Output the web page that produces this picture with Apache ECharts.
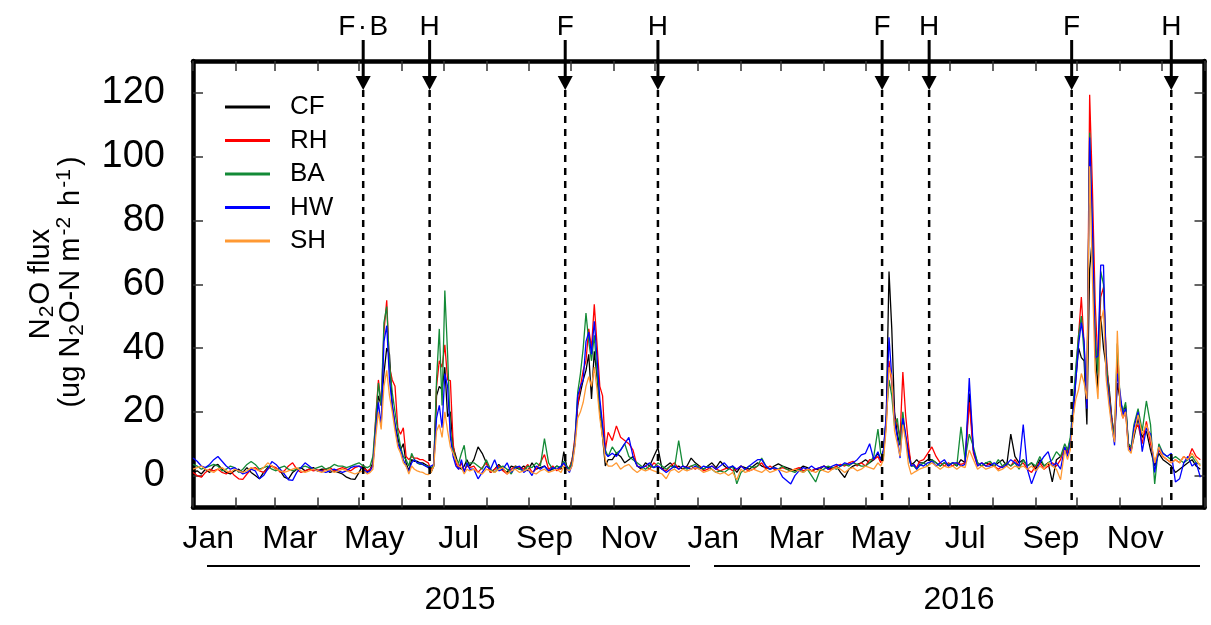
<!DOCTYPE html>
<html>
<head>
<meta charset="utf-8">
<title>N2O flux</title>
<script src="https://cdn.jsdelivr.net/npm/echarts@6.0.0/dist/echarts.min.js"></script>
<style>
html, body { margin: 0; padding: 0; background: #fff; }
#chart { width: 1211px; height: 625px; }
</style>
</head>
<body>
<div id="chart"></div>
<script>
// sampling days (days since 2015-01-01): [first, last, step]; denser around flux peaks
var sampleRuns = [[0,126,3],[128,200,2],[203,266,3],[268,300,2],[303,495,3],[497,525,2],[528,630,3],[632,680,2],[683,728,3]];

var seriesNames = ['CF', 'RH', 'BA', 'HW', 'SH'];
var seriesColors = ['#000000', '#ff0000', '#138a36', '#0000ff', '#ff9933'];

// field operations: fertilization / biochar (F, F·B) and harvest (H)
var eventDays = [123, 171, 269, 336, 498, 532, 635, 707];
var eventLabels = ['F\u200a\u00b7\u200aB', 'H', 'F', 'H', 'F', 'H', 'F', 'H'];

var monthNames = ['Jan','Feb','Mar','Apr','May','Jun','Jul','Aug','Sep','Oct','Nov','Dec'];
var labelMonths = [0, 2, 4, 6, 8, 10];
var yTicks = [0, 20, 40, 60, 80, 100, 120];
var years = ['2015', '2016'];

var CF = [
  1,1.5,0.5,2,1,3,3.5,2,1,0.5, 1.5,2,1,2.5,1,0,-1,1,2.5,3, 2,1.5,-0.5,-1,1,2,2.5,1.5,2,2.5, 1.5,2,2,1,1.5,1,0.5,-0.5,-1,-1.2, 1,3.5,1,
  2,4,15,25,22,32,40,38,22,16, 12,8,10,4,1.5,5,4.5,4.5,4,4, 3.5,3,1,3,25,28,27,34,18.5,20, 9,6,3,2,3,5,3,
  5,9,7,4,1,2,3.5,2,1,3, 2.5,2,3,1.5,4,2,2.5,3,1.5,2, 3,2,
  7.5,3,2,5,10,22,26,30,33,38, 24,39,31,20,12,3,5,
  5,7,6,4,5,6,3,2,4,3, 6,8.8,2,3,4,2.5,3,2,3,5.5, 4,3,2,3,4,2.5,4.5,3,2,3, 1,3,2.5,2,3,4,3,2.5,2,3, 3.7,3,2.5,2,1.5,2,3,2.5,1.5,2, 2,3,2.5,2,3,1,-0.6,2,3,3.5, 4,5,4,5,7,
  5,8,18,64,46,20,13,9.5,17.8,12, 8,3.5,4,5,4,
  4,5,5,4,3,4,3,4,3,5, 4,25.7,8,4,3,4,3.5,3,4,5, 3,13,6,4,5,3,4,2,5,3, 4,-2,5,6,8,
  8,11,18,30,40,37,36,16,64.7,74.7, 40,27,50,40,34,28,18,12,29,24, 20,22,10,8,12,
  18,12,14,8,3,7,5,4,3,1, 2,3,4,5,3,2
];
var RH = [
  1,0,-0.5,1,2,1.5,2,1,0.5,1.5, 0,-1,-1.2,0.5,2,2.5,1.5,1,2,3, 2.5,1,1.5,3,4,2,1,1.5,2,1.5, 1.8,1.5,2,2.5,1.5,2,2.5,2,1.5,2.5, 3,2.5,1.5,
  2,3,18,30,22,45,55,34,30,28, 15,13,15,6,5,6,5.5,5.5,5,5, 4.5,4,2,3.5,28,36,34,41,30,29.8, 10,4,2,4,1.5,3,2.5,
  3,1,2.5,4,1,2,3,1.5,0.5,2, 3,2.5,2,3.5,1,2,4,6.6,2,3, 1.5,2.5,
  4,2,2.5,5,12,22,28,33,36,46, 40,53.7,41,28,25,8,13.6,
  11,15.6,12,11,10,8,3,2.5,3,2, 4,3,2,1.5,3,4,2,3,2.5,3, 2,3,1.5,2,3,2,1.5,2,2.5,1.5, 2,3,2,1.5,2,3,4,2,3,2, 2,2.5,2,1.5,2,2.5,1.5,2,1.5,2, 2.5,3,2,2,3,3.5,3,4,4.5,3, 4,3,5,5,6,
  4,7,16,36,29,18,16,12,32.5,19, 10,3,3.5,2.5,4.5,
  5,7,9,6,4,3,4,3,4,3.5, 4,23,7,3,4,3,4,3,2,3, 4,3,5,3,4,2,1,3,4,2, 3,4,3,5,9,
  7,10,20,32,44,56,41,22,119.4,90, 54,35,56,59,38,26,18,11,37,22, 18,20,9,8,14,
  16,10,17,10,4,8,6,5,4,5, 4,6,5,8.5,6,5
];
var BA = [
  3.5,3,2,2.5,3,3.5,3,1.5,2,3, 2.5,1,2,3.5,4.4,3.5,2,2.5,3,2, 1.5,2.5,3,2,1.5,2,2.5,3,2.5,2, 2.5,3,2,2.5,3.5,3,3,2.5,3,3.5, 4,3,2.5,
  3,6,17,29,22,48,53,35,26,20, 14,9,6,5,3,7,5,4,3.5,3.5, 3,3,2.5,3,30,46,22,58,38,14, 8,5,4,7,9.5,3,4,
  4,3,2,5,2,1,2.5,3,2,0.5, 3,2,1.5,3,2.5,4,3,11.6,4,2, 3,2.5,
  4.5,3,2,4.5,11,26,32,40,51,42, 36,44,32,22,15,8,6,
  9,7,8,10,6,5,4,3,2,3, 2.5,4,3,2,3,2.5,11,3,2,3, 3.5,2.5,2,3,2,1,1.5,1,2,3, -2.6,1,2,3,2.5,3,5.5,3,2,2.5, 2,3,2,1.5,1,2,1,2,0,-2, 1.5,2,3,2.5,2,3,3.5,3,4,3.5, 3,3,4,6,14.6,
  7,6,18,30,25,15.6,18,10,20,12, 6,3,3,2,3,
  4,3,5,4,3,4,3.5,4,3,15.3, 5,13,9,4,3,4,4.5,3,5,3, 4,3,4,2,5,3,4,3,6,3, 4,5,7.5,6,10,
  8,12,22,34,44,50,38,23,107.5,76, 44,32,64,60,36,25,17,12,41.4,24, 20,23,10,9,16,
  21,14,23.4,16,-2.6,10,7,6,5,6, 5,4,5,6,4,3.5
];
var HW = [
  5.5,4.5,3,2.5,3.5,5,6,4.5,3,2, 2.5,1.5,0.5,1,2,1.5,-1,0,2,4.4, 3.5,2,0.5,-1.3,-1.5,1,2.5,4,3,2, 1.5,1.5,1,1.5,2,1.5,1,1.5,2.5,3, 3,2,1,
  1.5,3,14,23,15.5,42,47,30,22,16, 10,8,5,3,1.3,4,5,4,4,3.5, 3,2.5,3,3.5,18,22,15,32,28,12, 6,3,2,5,1,4,2,
  2,-1,1,3,2,5,1.5,2,4,1, 2.5,3,1,2,0,3,2,3,1.5,2.5, 2,3,
  4,2.5,1,3.5,10,25,28,30,42,45, 38,48.4,37,24,16,7,6,
  7,6,8,10,12,6,3,2.5,3,4, 2.5,3,2,1,2,3,2,3,2.5,2, 3,2,3,2.5,3,2,3,4,2.5,3, 2,3,2,3,4,5,5,3,2,2.5, 2,-0.4,-1.5,-2.6,0,1.5,2.5,2,3,2, 2.5,3,2,3,3.5,3,4,3.5,4,5, 6.5,7,10,5,7.5,
  5,8,19,43.4,31,17,12,5.5,18,13, 7,3,3.5,2,3.5,
  3,4,4.5,3,4,5,3,4,4,3, 3.5,30.6,8,3,4,3,3,4,3,2.5, 3.5,5,4,3,16,2,-2.6,1,4,6, 7.5,3,4,2,9,
  6,10,20,30,41,48,42,21,106,78.8, 37,37.5,66,66,32,24,16,9.5,32,26, 19,21,9,7.5,15,
  20,7.5,15,13,1,9,7,6,7,-2, -1,4,6,3,4,-0.5
];
var SH = [
  2,2.5,3,2,1.5,1,2,2.5,1.5,1, 2,1.5,1,1.5,2.5,2,1.5,2.5,4,3, 2,1.5,1,1.5,2,2.5,1.5,1,1.5,2, 1.5,1,1.5,2,1,1.5,2,1.5,1,0.5, 1,1.5,0.5,
  1,2,12,20,14.5,28,33,25,20,14, 9,7,4,3,0.5,3,2,1.5,1.2,1, 0.5,0.3,1,3,14,16,12,20,14,9, 7,5,3,2.5,0.5,2,1.5,
  2,1,0.5,2,1.5,1,2,2.5,0.5,1.5, 2,1,1.5,2,1,0.5,1.5,2,1,1.5, 2,1,
  3,2,1.5,3,9,18,20,23,28,31, 28,34,27,18,12,5,3,
  3,4,2,3,3.5,2,1,2,1.5,2, 1.5,1,0.5,-1,1.5,2,1,2,1.5,2, 2.5,2,1,1.5,2,1,0.5,1,0,1, -1.3,2,1,1.5,2,1.5,1,2,1,1.5, 2,1.5,1,1.5,2,1.5,1,2,1.5,1, 2,1.5,1,2,2.5,2,1,2,2.5,1.5, 2,3,2.5,2,4,
  3,5,15,34,31,14,10,6,16,11, 3.5,0.4,1,1.5,2,
  2.5,3,4,3,2,3,2.5,3,2,3, 2.5,8,5,2,3,2,2.5,3,1.5,2, 3,2,3,2.5,3,2,3,1.5,3,2, 4,3,2,-1.3,8,
  5,8,18,24,27,32,29,24,97,61.5, 33,24,48,52,30,22,15,10.5,45.4,22, 18,20,8,7,13,
  19,13,16,12,4,9,6,5,4,5, 4,6,5,7,5,3
];
var seriesValues = [CF, RH, BA, HW, SH];

var FONT = '"Liberation Sans", Arial, sans-serif';
var DAY = 86400000;
var T0 = Date.UTC(2015, 0, 1);
function dayOf(y, m, d) { return (Date.UTC(y, m, d) - T0) / DAY; }

// sample days
var days = [];
sampleRuns.forEach(function (r) {
    for (var d = r[0]; d <= r[1]; d += r[2]) days.push(d);
});
seriesValues.forEach(function (v, i) {
    if (v.length !== days.length) console.warn(seriesNames[i], v.length, days.length);
});

// month ticks and labels
var monthStarts = [];
for (var y = 2015; y <= 2016; y++) {
    for (var m = 0; m < 12; m++) monthStarts.push(dayOf(y, m, 1));
}
var endDay = dayOf(2017, 0, 1);
monthStarts.push(endDay);
var labelDays = [];
[2015, 2016].forEach(function (y) {
    labelMonths.forEach(function (m) { labelDays.push(dayOf(y, m, 1) + 11); });
});

var frameW = 4.5;
var tickStyle = { color: '#333', width: 1.5 };

function xAxisCfg(pos, showLabel) {
    return {
        type: 'value', min: 0, max: endDay, position: pos,
        axisLine: { show: true, onZero: false, lineStyle: { color: '#000', width: frameW } },
        axisTick: { show: true, inside: true, length: 10, customValues: monthStarts, lineStyle: tickStyle },
        axisLabel: {
            show: showLabel, customValues: labelDays, margin: 16,
            fontSize: 32, fontFamily: FONT, color: '#000',
            formatter: function (v) { return monthNames[new Date(T0 + v * DAY).getUTCMonth()]; }
        },
        splitLine: { show: false }
    };
}
function yAxisCfg(pos, showLabel) {
    return {
        type: 'value', min: -10, max: 130, position: pos,
        axisLine: { show: true, onZero: false, lineStyle: { color: '#000', width: frameW } },
        axisTick: { show: true, inside: true, length: 10, customValues: yTicks, lineStyle: tickStyle },
        axisLabel: { show: showLabel, customValues: yTicks, margin: 28, fontSize: 38, fontFamily: FONT, color: '#000' },
        splitLine: { show: false }
    };
}

var lineSeries = seriesNames.map(function (name, i) {
    return {
        name: name, type: 'line', xAxisIndex: 0, yAxisIndex: 0,
        showSymbol: false, silent: true, z: 2,
        lineStyle: { color: seriesColors[i], width: 1.3 },
        itemStyle: { color: seriesColors[i] },
        data: days.map(function (d, k) { return [d, seriesValues[i][k]]; })
    };
});

var eventSeries = {
    type: 'custom', coordinateSystem: 'cartesian2d', xAxisIndex: 0, yAxisIndex: 0,
    clip: false, silent: true, z: 5,
    data: eventDays.map(function (d, i) { return [d, i]; }),
    renderItem: function (params, api) {
        var x = api.coord([api.value(0), 0])[0];
        var cs = params.coordSys;
        var top = cs.y, bottom = cs.y + cs.height;
        var tip = top + 29;
        return {
            type: 'group',
            children: [
                { type: 'line', shape: { x1: x, y1: tip, x2: x, y2: bottom }, style: { stroke: '#000', lineWidth: 2.5, lineDash: [7, 6] } },
                { type: 'line', shape: { x1: x, y1: top - 21, x2: x, y2: tip - 12 }, style: { stroke: '#000', lineWidth: 3 } },
                { type: 'polygon', shape: { points: [[x - 7.5, tip - 14], [x + 7.5, tip - 14], [x, tip]] }, style: { fill: '#000' } },
                { type: 'text', style: { text: eventLabels[api.value(1)], x: x, y: top - 34, align: 'center', verticalAlign: 'middle', fontSize: 28, fontFamily: FONT, fill: '#000' } }
            ]
        };
    }
};

var nameRich = {
    a: { fontSize: 29, fontFamily: FONT, lineHeight: 34, verticalAlign: 'middle', color: '#000' },
    sub: { fontSize: 21, fontFamily: FONT, lineHeight: 21, verticalAlign: 'bottom', color: '#000', padding: [0, 1, 0, 1] },
    sup: { fontSize: 21, fontFamily: FONT, lineHeight: 21, verticalAlign: 'top', color: '#000', padding: [0, 3, 0, 2] }
};

var chart = echarts.init(document.getElementById('chart'));
chart.setOption({
    animation: false,
    backgroundColor: '#fff',
    grid: { left: 193, right: 6.5, top: 61, bottom: 117.5 },
    legend: {
        orient: 'vertical', left: 225, top: 94, padding: 0,
        icon: 'rect', itemWidth: 45, itemHeight: 3, itemGap: 7.5,
        selectedMode: false,
        textStyle: { fontSize: 26, fontFamily: FONT, color: '#000', lineHeight: 25, padding: [0, 0, 0, 15] },
        data: seriesNames
    },
    xAxis: [xAxisCfg('bottom', true), xAxisCfg('top', false)],
    yAxis: [yAxisCfg('left', true), yAxisCfg('right', false)],
    series: lineSeries.concat([eventSeries]),
    graphic: [
        { type: 'text', x: 41, y: 284, rotation: Math.PI / 2,
          style: { text: '{a|N}{sub|2}{a|O flux}', rich: nameRich, align: 'center', verticalAlign: 'middle' } },
        { type: 'text', x: 71, y: 282, rotation: Math.PI / 2,
          style: { text: '{a|(ug N}{sub|2}{a|O-N m}{sup|-2}{a| h}{sup|-1}{a|)}', rich: nameRich, align: 'center', verticalAlign: 'middle' } },
        { type: 'line', shape: { x1: 207, y1: 566, x2: 690, y2: 566 }, style: { stroke: '#000', lineWidth: 2 } },
        { type: 'line', shape: { x1: 714, y1: 566, x2: 1200, y2: 566 }, style: { stroke: '#000', lineWidth: 2 } },
        { type: 'text', x: 460, y: 600, style: { text: years[0], fontSize: 32, fontFamily: FONT, fill: '#000', align: 'center', verticalAlign: 'middle' } },
        { type: 'text', x: 959, y: 600, style: { text: years[1], fontSize: 32, fontFamily: FONT, fill: '#000', align: 'center', verticalAlign: 'middle' } }
    ]
});
</script>
</body>
</html>
